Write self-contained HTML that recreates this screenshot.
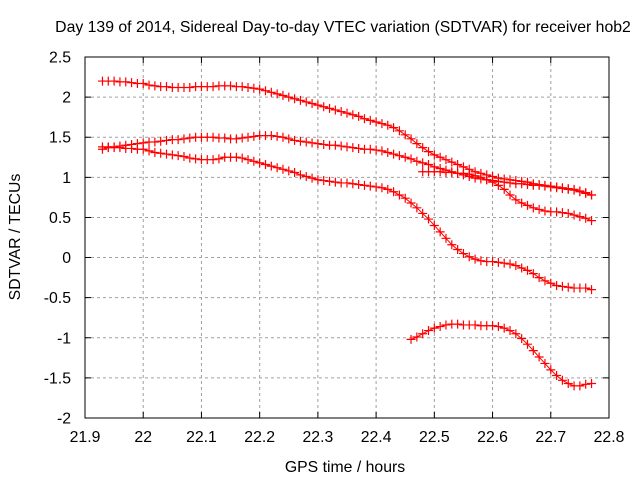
<!DOCTYPE html>
<html><head><meta charset="utf-8"><style>
body{margin:0;background:#fff;}
svg{display:block;font-family:"Liberation Sans",sans-serif;}
</style></head><body>
<svg id="chart" width="640" height="480">
<rect width="640" height="480" fill="#fff"/>
<text x="343" y="32" font-size="15.8" text-anchor="middle">Day 139 of 2014, Sidereal Day-to-day VTEC variation (SDTVAR) for receiver hob2</text>
<text transform="translate(20,237) rotate(-90)" font-size="15.8" text-anchor="middle">SDTVAR / TECUs</text>
<text x="345" y="472" font-size="15.8" text-anchor="middle">GPS time / hours</text>
<g id="grid"></g><g id="ticks"></g><g id="series"></g>
<rect x="85" y="57" width="524" height="361" fill="none" stroke="#000" stroke-width="1"/>
</svg>
<script>
const xTicks=[21.9,22,22.1,22.2,22.3,22.4,22.5,22.6,22.7,22.8];
const xTickLabels=["21.9","22","22.1","22.2","22.3","22.4","22.5","22.6","22.7","22.8"];
const yTicks=[-2,-1.5,-1,-0.5,0,0.5,1,1.5,2,2.5];
const yTickLabels=["-2","-1.5","-1","-0.5","0","0.5","1","1.5","2","2.5"];
const seriesAStart=21.93;
const seriesA=[2.2,2.2,2.2,2.19,2.19,2.18,2.17,2.17,2.15,2.14,2.13,2.13,2.12,2.12,2.12,2.12,2.13,2.13,2.13,2.13,2.14,2.14,2.14,2.13,2.13,2.12,2.11,2.1,2.08,2.06,2.04,2.02,2.0,1.98,1.96,1.94,1.92,1.9,1.88,1.86,1.84,1.82,1.8,1.78,1.76,1.73,1.71,1.69,1.67,1.65,1.62,1.58,1.53,1.48,1.42,1.37,1.32,1.28,1.25,1.22,1.19,1.16,1.13,1.1,1.07,1.05,1.03,1.01,0.99,0.98,0.97,0.96,0.95,0.94,0.92,0.91,0.9,0.89,0.88,0.87,0.86,0.85,0.83,0.81,0.78];
const seriesBStart=21.93;
const seriesB=[1.35,1.37,1.38,1.39,1.40,1.41,1.42,1.43,1.44,1.44,1.45,1.46,1.47,1.47,1.48,1.49,1.50,1.50,1.50,1.50,1.49,1.49,1.48,1.48,1.49,1.50,1.51,1.52,1.52,1.52,1.51,1.50,1.48,1.46,1.45,1.44,1.43,1.42,1.41,1.40,1.40,1.39,1.38,1.37,1.36,1.35,1.35,1.34,1.33,1.31,1.29,1.27,1.25,1.23,1.20,1.18,1.16,1.13,1.11,1.09,1.07,1.05,1.03,1.01,0.99,0.98,0.97,0.96,0.95,0.94,0.93,0.92,0.92,0.91,0.90,0.90,0.89,0.88,0.87,0.86,0.85,0.84,0.82,0.80,0.78];
const seriesCStart=21.93;
const seriesC=[1.38,1.38,1.37,1.37,1.36,1.36,1.35,1.35,1.33,1.31,1.30,1.29,1.28,1.27,1.26,1.24,1.23,1.22,1.22,1.22,1.23,1.25,1.25,1.25,1.24,1.22,1.20,1.18,1.16,1.14,1.12,1.10,1.08,1.06,1.03,1.01,0.99,0.97,0.96,0.95,0.94,0.93,0.93,0.92,0.91,0.90,0.89,0.88,0.87,0.85,0.82,0.78,0.74,0.68,0.62,0.55,0.48,0.40,0.32,0.24,0.16,0.10,0.05,0.01,-0.02,-0.04,-0.05,-0.05,-0.06,-0.07,-0.08,-0.10,-0.13,-0.16,-0.20,-0.25,-0.29,-0.32,-0.35,-0.36,-0.37,-0.38,-0.38,-0.38,-0.40];
const seriesDStart=22.48;
const seriesD=[1.07,1.07,1.07,1.07,1.06,1.06,1.05,1.05,1.04,1.02,1.00,0.97,0.94,0.90,0.85,0.78,0.72,0.68,0.65,0.62,0.60,0.58,0.57,0.57,0.56,0.55,0.53,0.51,0.49,0.46];
const seriesEStart=22.46;
const seriesE=[-1.02,-0.99,-0.95,-0.91,-0.88,-0.86,-0.84,-0.83,-0.83,-0.84,-0.84,-0.84,-0.85,-0.85,-0.85,-0.86,-0.88,-0.91,-0.95,-1.01,-1.08,-1.16,-1.24,-1.32,-1.40,-1.47,-1.53,-1.57,-1.60,-1.60,-1.58,-1.57];
const timeStep=0.01;

const NS="http://www.w3.org/2000/svg";
const L=85,R=609,T=57,B=418;
function xs(v){return L+(v-21.9)/(22.8-21.9)*(R-L);}
function ys(v){return B-(v+2)/(4.5)*(B-T);}
function mk(tag,attrs,parent){const e=document.createElementNS(NS,tag);for(const k in attrs)e.setAttribute(k,attrs[k]);parent.appendChild(e);return e;}
const grid=document.getElementById('grid'),ticks=document.getElementById('ticks'),ser=document.getElementById('series');
xTicks.forEach((t,i)=>{const x=xs(t);
 if(i>0&&i<xTicks.length-1){const g=mk('line',{x1:x,x2:x,y1:T,y2:B,stroke:'#a0a0a0','stroke-dasharray':'3,3'},grid);
 
 }
 const a=mk('path',{d:`M${x},${B}v-6M${x},${T}v6`,stroke:'#000'},ticks);
 
 
 const lb=mk('text',{x:x,y:442,'font-size':15.8,'text-anchor':'middle'},ticks);lb.textContent=xTickLabels[i];
 
 
});
yTicks.forEach((t,i)=>{const y=ys(t);
 if(i>0&&i<yTicks.length-1){const g=mk('line',{x1:L,x2:R,y1:y,y2:y,stroke:'#a0a0a0','stroke-dasharray':'3,3'},grid);
 
 }
 const a=mk('path',{d:`M${L},${y}h6M${R},${y}h-6`,stroke:'#000'},ticks);
 
 
 const lb=mk('text',{x:71,y:y+5.5,'font-size':15.8,'text-anchor':'end'},ticks);lb.textContent=yTickLabels[i];
 
 
});
function draw(start,vals,name){
 const g=mk('g',{},ser);
 
 
 const pts=vals.map((v,i)=>[xs(start+i*timeStep),ys(v)]);
 mk('polyline',{points:pts.map(p=>p.join(',')).join(' '),fill:'none',stroke:'#f00','stroke-width':1},g);
 let d='';pts.forEach(p=>{d+=`M${p[0]-4.5},${p[1]}h9M${p[0]},${p[1]-4.5}v9`;});
 const m=mk('path',{d:d,stroke:'#f00','stroke-width':1.2,fill:'none'},g);
 
 
}
draw(seriesAStart,seriesA,'series-a');
draw(seriesBStart,seriesB,'series-b');
draw(seriesCStart,seriesC,'series-c');
draw(seriesDStart,seriesD,'series-d');
draw(seriesEStart,seriesE,'series-e');
</script>
</body></html>
